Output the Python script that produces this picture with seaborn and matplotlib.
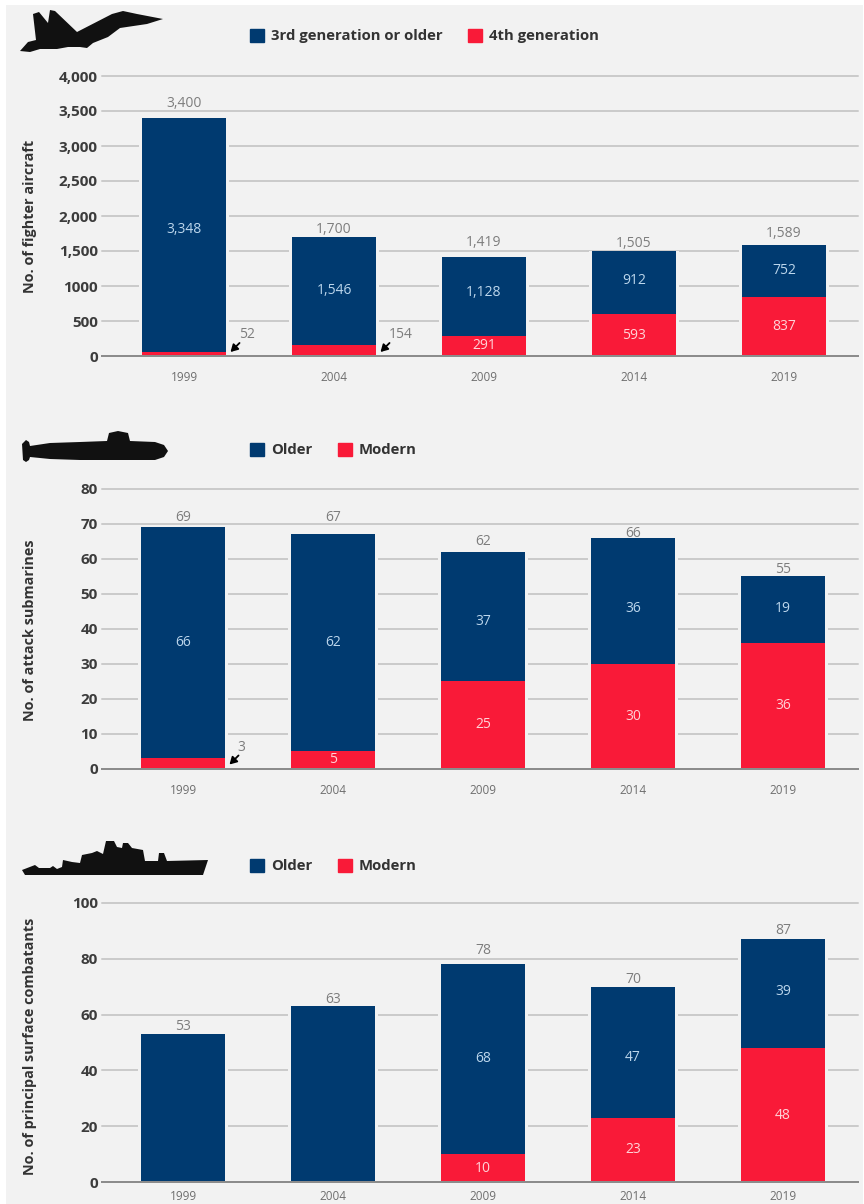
import matplotlib
matplotlib.use('Agg')
import matplotlib.pyplot as plt
from matplotlib.patches import Patch, Polygon, Rectangle
import pandas as pd
import seaborn as sns

W, H = 864, 1204
BG = '#f2f2f2'
NAVY = '#003a70'
RED = '#f91a38'
GRID = '#cbcbcb'

years = ['1999', '2004', '2009', '2014', '2019']

# fighter aircraft
fighter_total = [3400, 1700, 1419, 1505, 1589]
fighter_old = [3348, 1546, 1128, 912, 752]
fighter_new = [52, 154, 291, 593, 837]
fighter_ticks = [0, 500, 1000, 1500, 2000, 2500, 3000, 3500, 4000]
fighter_ticklabels = ['0', '500', '1000', '1,500', '2,000', '2,500', '3,000', '3,500', '4,000']

# attack submarines
sub_total = [69, 67, 62, 66, 55]
sub_old = [66, 62, 37, 36, 19]
sub_new = [3, 5, 25, 30, 36]
sub_ticks = [0, 10, 20, 30, 40, 50, 60, 70, 80]

# surface combatants
ship_total = [53, 63, 78, 70, 87]
ship_old = [None, None, 68, 47, 39]
ship_new = [0, 0, 10, 23, 48]
ship_ticks = [0, 20, 40, 60, 80, 100]

# the source places its numbers by hand, these are the shifts in px (up is positive)
fighter_total_dy = [4, -3, 4, -3, 1]
fighter_old_dy = [4, -1, 2, 0, -1]
sub_total_dy = [0, 7, 0, -6, -3]
sub_old_dy = [-2, -2, -7, -10, -1]
ship_total_dy = [-3, -4, 4, -3, -2]
ship_old_dy = [0, 0, -1, -7, 0]

jet_icon = [(20, 51), (28, 42), (36, 40), (33, 14), (39, 12), (48, 23), (50, 10), (55, 11), (77, 32),
            (112, 14), (123, 11), (137, 14), (163, 19), (147, 24), (120, 28), (108, 37), (93, 43),
            (87, 48), (80, 47), (68, 47), (57, 49), (40, 49), (30, 52)]
sub_icon = [(22, 444), (26, 440), (29, 442), (30, 446), (50, 443), (80, 442), (107, 441), (109, 433),
            (118, 431), (128, 433), (130, 441), (155, 442), (164, 445), (168, 451), (164, 457),
            (155, 460), (80, 460), (50, 459), (30, 457), (29, 460), (26, 462), (23, 460)]
ship_icon = [(22, 870), (35, 865), (39, 868), (50, 868), (53, 866), (57, 869), (62, 867), (63, 860),
             (72, 862), (80, 863), (82, 855), (92, 853), (97, 851), (103, 854), (106, 841), (114, 841),
             (117, 847), (122, 848), (123, 843), (128, 843), (132, 848), (143, 850), (145, 861),
             (158, 861), (159, 853), (164, 853), (167, 861), (208, 860), (203, 875), (25, 875)]

sns.set_theme(style='white')
plt.rcParams['font.family'] = ['Open Sans', 'DejaVu Sans']

fig = plt.figure(figsize=(W / 100, H / 100), dpi=100, facecolor='white')
fig.add_artist(Rectangle((6 / W, 0), (W - 7) / W, 1 - 5 / H, transform=fig.transFigure, fc=BG, ec='none',
                         zorder=-1))


def draw_panel(top, bottom, bar_left, ylim, ticks, ticklabels, ylabel, ylabel_y, total, old, new,
               total_dy, old_dy, legend_names, legend_y, icon, xpad=11):
    # category 0 sits at bar_left + half a bar, categories are 150px apart
    x0 = (bar_left + 42 - 102) / 150
    ax = fig.add_axes([102 / W, 1 - bottom / H, 756 / W, (bottom - top) / H])
    ax.set_facecolor('none')
    df = pd.DataFrame({'year': years, 'total': total, 'new': new})
    # wider background bar gives the small gap where the gridlines meet a column
    sns.barplot(data=df, x='year', y='total', color=BG, saturation=1, width=0.6, linewidth=0, ax=ax)
    sns.barplot(data=df, x='year', y='total', color=NAVY, saturation=1, width=0.56, linewidth=0, ax=ax)
    sns.barplot(data=df, x='year', y='new', color=RED, saturation=1, width=0.56, linewidth=0, ax=ax)
    ax.set_xlim(-x0, (858 - bar_left - 42) / 150)
    ax.set_ylim(*ylim)
    ax.set_yticks(ticks)
    ax.set_yticklabels(ticklabels, fontsize=11, fontweight='bold', color='#3c3c3c')
    ax.tick_params(axis='y', length=0, pad=3)
    ax.tick_params(axis='x', length=0, pad=xpad, labelsize=8.5, labelcolor='#6e6e6e')
    ax.grid(axis='y', color=GRID, lw=1.44)
    ax.set_axisbelow(True)
    # top line sits on the axes edge, keep it as thick as the others
    for line in ax.get_ygridlines():
        line.set_clip_on(False)
    for s in ['top', 'left', 'right']:
        ax.spines[s].set_visible(False)
    ax.spines['bottom'].set_color('#8c8c8c')
    ax.spines['bottom'].set_linewidth(1.44)
    ax.set_xlabel('')
    ax.set_ylabel(ylabel, fontsize=10.4, fontweight='bold', color='#333333')
    ax.yaxis.set_label_coords(37 / W, 1 - ylabel_y / H, transform=fig.transFigure)

    span = ylim[1] - ylim[0]
    per_px = span / (bottom - top)
    for i in range(len(years)):
        ax.annotate(f'{total[i]:,}', (i, total[i] + total_dy[i] * per_px), xytext=(0, 2),
                    textcoords='offset points', ha='center', va='bottom', fontsize=10, color='#7d7d7d')
        if old[i] is not None:
            ax.text(i, new[i] + old[i] / 2 + (2 + old_dy[i]) * per_px, f'{old[i]:,}', ha='center', va='center',
                    fontsize=10, color='#bcd6ec')
        if new[i] / span > 0.05:
            ax.text(i, new[i] / 2, f'{new[i]:,}', ha='center', va='center', fontsize=10, color='#ffd3d8')

    handles = [Patch(color=NAVY, label=legend_names[0]), Patch(color=RED, label=legend_names[1])]
    fig.legend(handles=handles, loc='center left', bbox_to_anchor=(250 / W, 1 - legend_y / H), ncol=2,
               frameon=False, borderpad=0, borderaxespad=0, handlelength=0.95, handleheight=0.95,
               handletextpad=0.48, columnspacing=1.7, prop={'size': 10.7, 'weight': 'bold'},
               labelcolor='#333333')
    fig.add_artist(Polygon([(x / W, 1 - y / H) for x, y in icon], closed=True, fc='#111111', ec='none',
                           transform=fig.transFigure))
    return ax


def callout(ax, i, label, px_per_unit):
    # arrow tip sits just right of the column, a few px above the baseline
    tip = (i + 0.31, 4 / px_per_unit)
    arrow = dict(arrowstyle='-|>,head_width=0.2,head_length=0.35', color='black', lw=1.3, shrinkA=0, shrinkB=0)
    ax.annotate('', xy=tip, xycoords='data', xytext=(6.5, 6.5), textcoords='offset points',
                arrowprops=arrow, annotation_clip=False)
    ax.annotate(label, xy=tip, xycoords='data', xytext=(6, 7), textcoords='offset points',
                fontsize=10, color='#7d7d7d', va='bottom')


ax1 = draw_panel(76, 356, 142, (0, 4000), fighter_ticks, fighter_ticklabels, 'No. of fighter aircraft', 216,
                 fighter_total, fighter_old, fighter_new, fighter_total_dy, fighter_old_dy,
                 ['3rd generation or older', '4th generation'], 36, jet_icon)
ax2 = draw_panel(489, 768.5, 141, (0, 80), sub_ticks, [str(t) for t in sub_ticks], 'No. of attack submarines', 630,
                 sub_total, sub_old, sub_new, sub_total_dy, sub_old_dy, ['Older', 'Modern'], 450, sub_icon)
ax3 = draw_panel(903, 1182, 141, (0, 100), ship_ticks, [str(t) for t in ship_ticks],
                 'No. of principal surface combatants', 1046,
                 ship_total, ship_old, ship_new, ship_total_dy, ship_old_dy, ['Older', 'Modern'], 866, ship_icon,
                 xpad=6)

callout(ax1, 0, '52', 280 / 4000)
callout(ax1, 1, '154', 280 / 4000)
callout(ax2, 0, '3', 279.5 / 80)

fig.savefig('out.png', dpi=100, facecolor='white')
